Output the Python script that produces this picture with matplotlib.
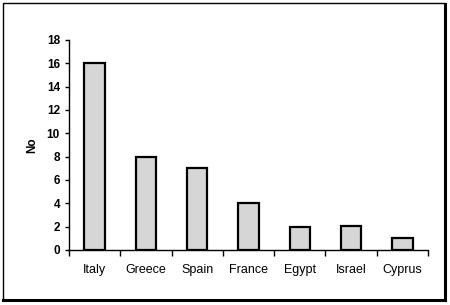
import numpy as np
from matplotlib import pyplot as plt
from matplotlib.patches import Rectangle

countries = ['Italy', 'Greece', 'Spain', 'France', 'Egypt', 'Israel', 'Cyprus']
counts = [16, 8, 7, 4, 2, 2.1, 1]
y_ticks = [0, 2, 4, 6, 8, 10, 12, 14, 16, 18]

plt.rcParams['font.family'] = ['Liberation Sans', 'DejaVu Sans']

fig = plt.figure(figsize=(4.5, 3.05), dpi=100)

# outer frame with heavier right/bottom edges
fig.add_artist(Rectangle((3/450, 1-300/305), 442/450, 297/305, transform=fig.transFigure,
                         fill=False, edgecolor='black', linewidth=1.0))
fig.add_artist(plt.Line2D([445/450, 445/450], [1-300/305, 1-4/305], transform=fig.transFigure,
                          color='black', linewidth=2.2))
fig.add_artist(plt.Line2D([3/450, 445/450], [1-300/305, 1-300/305], transform=fig.transFigure,
                          color='black', linewidth=2.2))

ax = fig.add_axes([69/450, 1-250/305, 359/450, 210/305])
x = np.arange(len(countries))
ax.bar(x, counts, width=0.4, color='#d6d6d6', edgecolor='black', linewidth=1.6)

ax.set_xlim(-0.5, len(countries)-0.5)
ax.set_ylim(0, 18)
ax.set_yticks(y_ticks)
ax.set_xticks(x)
ax.set_xticklabels(countries, fontsize=9)
ax.set_xticks(np.arange(len(countries)+1)-0.5, minor=True)
ax.tick_params(axis='x', which='major', length=0, pad=10)
ax.tick_params(axis='x', which='minor', length=4, width=1, direction='out')
ax.tick_params(axis='y', length=3, width=1, direction='out', labelsize=8.5)
for lbl in ax.get_yticklabels():
    lbl.set_fontweight('bold')
ax.set_ylabel('No', fontsize=8.5, fontweight='bold', labelpad=6)

for s in ['top', 'right']:
    ax.spines[s].set_visible(False)
ax.spines['left'].set_linewidth(1)
ax.spines['bottom'].set_linewidth(1)

fig.savefig('out.png', dpi=100)
